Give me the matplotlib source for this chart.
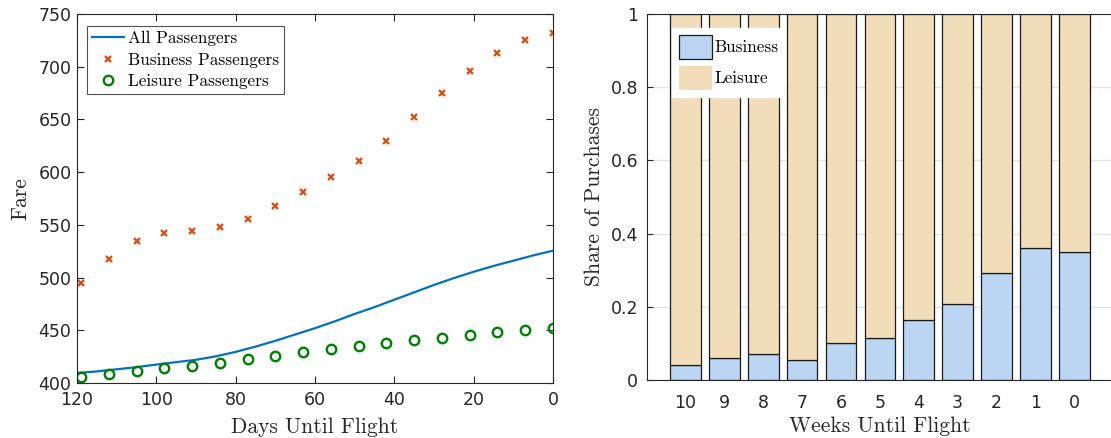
import matplotlib
matplotlib.use("Agg")
import matplotlib.pyplot as plt
from matplotlib.patches import Patch

# ---- data: left panel ----
days_pts = [119, 112, 105, 98, 91, 84, 77, 70, 63, 56, 49, 42, 35, 28, 21, 14, 7, 0]
business_fare = [495, 518, 535, 542, 544, 548, 556, 568, 581, 595, 611, 630, 652, 675, 696, 713, 725, 732]
leisure_fare = [406, 409, 411, 414, 416.5, 419, 422.5, 426, 429, 432, 435.5, 438, 441, 443, 445.6, 448, 450, 452]
days_line = [120, 115, 110, 105, 100, 95, 90, 85, 80, 75, 70, 65, 60, 55, 50, 45, 40, 35, 30, 25, 20, 15, 10, 5, 0]
all_fare = [409.5, 411, 413, 415, 417.5, 419.8, 422, 425.3, 429.5, 434.5, 440, 446, 452, 458.5, 465.5, 472, 479, 486, 493, 499.5, 505.5, 511, 516, 521, 525.5]

# ---- data: right panel ----
weeks = ["10", "9", "8", "7", "6", "5", "4", "3", "2", "1", "0"]
business_share = [0.041, 0.061, 0.071, 0.056, 0.102, 0.114, 0.164, 0.209, 0.291, 0.362, 0.350]

W, H = 1111, 438
fig = plt.figure(figsize=(W / 100, H / 100), dpi=100)

tick_color = "#262626"
serif = "cmr10"
tick_fs = 12.5
label_fs = 15.5

# ---------------- left panel ----------------
ax1 = fig.add_axes([77 / W, (H - 383) / H, 476 / W, 369 / H])
ax1.plot(days_line, all_fare, color="#0072BD", lw=1.6, label="All Passengers")
ax1.plot(days_pts, business_fare, linestyle="none", marker="x", color="#D95319",
         ms=4.8, mew=1.7, label="Business Passengers")
ax1.plot(days_pts, leisure_fare, linestyle="none", marker="o", mfc="none", mec="#008000",
         ms=6.8, mew=1.7, label="Leisure Passengers")
ax1.set_xlim(120, 0)
ax1.set_ylim(400, 750)
ax1.set_xticks([120, 100, 80, 60, 40, 20, 0])
ax1.set_yticks(range(400, 751, 50))
ax1.tick_params(direction="in", top=True, right=True, length=5, width=0.8,
                labelsize=tick_fs, colors=tick_color)
ax1.tick_params(axis="x", pad=6)
ax1.tick_params(axis="y", pad=4)
ax1.set_xlabel("Days Until Flight", family=serif, fontsize=label_fs, color=tick_color, labelpad=6)
ax1.set_ylabel("Fare", family=serif, fontsize=label_fs, color=tick_color, labelpad=6)
for s in ax1.spines.values():
    s.set_color(tick_color)
    s.set_linewidth(0.8)
leg1 = ax1.legend(loc="upper left", bbox_to_anchor=(0.021, 0.968), prop={"family": serif, "size": 12.4},
                  frameon=True, fancybox=False, edgecolor=tick_color, borderpad=0.28,
                  labelspacing=0.37, handlelength=1.85, handletextpad=0.25, borderaxespad=0)
leg1.get_frame().set_linewidth(0.8)

# ---------------- right panel ----------------
x = list(range(len(weeks)))
leisure_share = [1 - b for b in business_share]
span = 12 * 38.86
ax2 = fig.add_axes([646.7 / W, (H - 380) / H, span / W, 366 / H])
ax2.set_axisbelow(True)
ax2.yaxis.grid(True, color="#e3e3e3", lw=0.9)
ax2.bar(x, business_share, width=0.79, color="#BBD5F2", edgecolor="#1a1a1a", lw=0.9)
ax2.bar(x, leisure_share, bottom=business_share, width=0.79, color="#F2DDBB",
        edgecolor="#1a1a1a", lw=0.9)
ax2.set_xlim(-1, 11)
ax2.set_ylim(0, 1)
ax2.set_xticks(x)
ax2.set_xticklabels(weeks)
ax2.set_yticks([0, 0.2, 0.4, 0.6, 0.8, 1])
ax2.set_yticklabels(["0", "0.2", "0.4", "0.6", "0.8", "1"])
ax2.tick_params(axis="x", length=0, labelsize=tick_fs, colors=tick_color, pad=10)
ax2.tick_params(axis="y", direction="in", length=4, width=0.8, labelsize=tick_fs,
                colors=tick_color, pad=6)
ax2.set_xlabel("Weeks Until Flight", family=serif, fontsize=label_fs, color=tick_color, labelpad=3)
ax2.set_ylabel("Share of Purchases", family=serif, fontsize=label_fs, color=tick_color, labelpad=5)
for s in ax2.spines.values():
    s.set_color(tick_color)
    s.set_linewidth(0.8)
handles = [Patch(facecolor="#BBD5F2", edgecolor="#1a1a1a", lw=0.9, label="Business"),
           Patch(facecolor="#F2DDBB", edgecolor="none", label="Leisure")]
leg2 = ax2.legend(handles=handles, loc="upper left", bbox_to_anchor=(0.054, 0.962),
                  prop={"family": serif, "size": 12.3}, frameon=True, fancybox=False,
                  edgecolor="white", facecolor="white", framealpha=1, borderpad=0.4,
                  labelspacing=0.4, handlelength=1.93, handleheight=1.8, handletextpad=0.15,
                  borderaxespad=0)

fig.savefig("out.png", dpi=100)
